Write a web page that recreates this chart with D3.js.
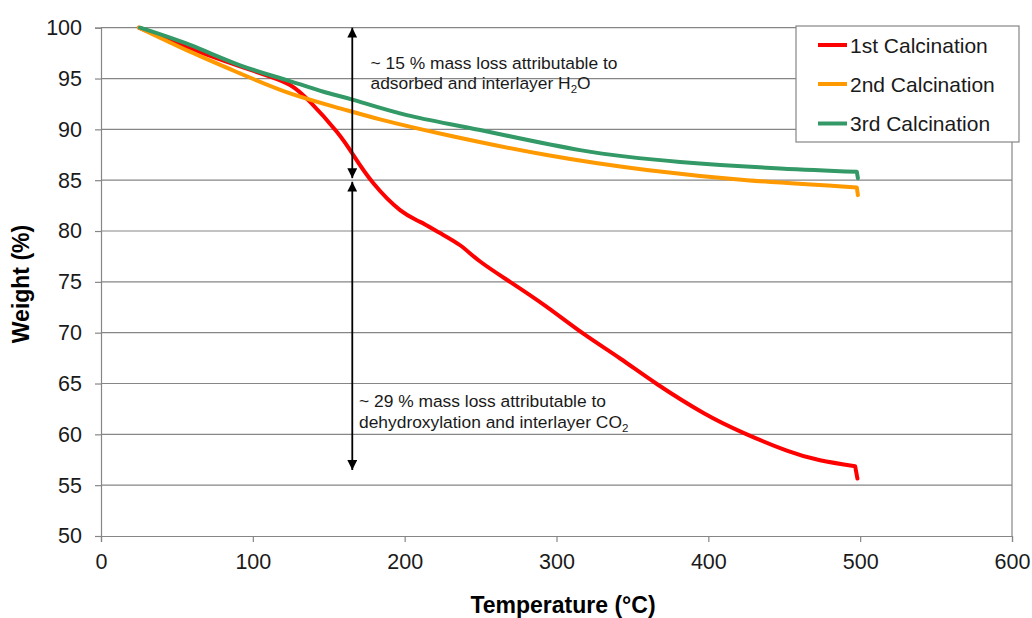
<!DOCTYPE html>
<html><head><meta charset="utf-8">
<script src="https://cdn.jsdelivr.net/npm/d3@7"></script>
<style>body{margin:0;background:#fff;} svg{display:block;font-family:Arial,"Liberation Sans",sans-serif;}</style>
</head><body>
<svg id="c" width="1032" height="618"></svg>
<script>
const seriesNames = ["1st Calcination", "2nd Calcination", "3rd Calcination"];
const temps1 = [25, 58.6, 91.6, 111.3, 124.5, 137.7, 155.3, 166.2, 179.4, 197, 210.2, 223.3, 236.5, 249.7, 269.4, 293.6, 317.7, 341.9, 366.1, 396.8, 423.1, 451.7, 473.6, 496.7, 498.2];
const weights1 = [100, 97.97, 96.2, 95.2, 94.36, 92.7, 89.76, 87.47, 84.7, 82.06, 80.9, 79.8, 78.6, 77.0, 75.0, 72.54, 69.9, 67.46, 64.95, 62.1, 60.15, 58.4, 57.45, 56.86, 55.65];
const temps2 = [25, 58.6, 91.6, 124.5, 157.4, 183.8, 227.7, 293.6, 359.5, 425.4, 497.8, 498.5];
const weights2 = [100, 97.64, 95.5, 93.54, 92.07, 90.98, 89.44, 87.47, 86.0, 85.0, 84.29, 83.53];
const temps3 = [25.7, 58.6, 91.6, 122.3, 146.5, 166.2, 201.4, 249.7, 315.5, 381.4, 447.3, 497.8, 498.5];
const weights3 = [100, 98.3, 96.3, 94.85, 93.7, 92.9, 91.4, 89.93, 87.96, 86.8, 86.16, 85.83, 85.2];
const xTicks = [0, 100, 200, 300, 400, 500, 600];
const yTicks = [50, 55, 60, 65, 70, 75, 80, 85, 90, 95, 100];
const arrowTemp = 165.5;
const arrowUpper = [100, 85.2];
const arrowLower = [84.85, 56.5];
const note1 = ["~ 15 % mass loss attributable to", "adsorbed and interlayer H", "2", "O"];
const note2 = ["~ 29 % mass loss attributable to", "dehydroxylation and interlayer CO", "2"];
const colors = ["#ff0000", "#ff9900", "#339966"];

const svg = d3.select("#c");
const x = d3.scaleLinear().domain([0, 600]).range([101, 1012]);
const y = d3.scaleLinear().domain([50, 100]).range([536, 27.7]);

// gridlines
svg.append("g").selectAll("line").data(yTicks.filter(d => d > 50)).join("line")
  .attr("x1", x(0)).attr("x2", x(600)).attr("y1", d => y(d)).attr("y2", d => y(d))
  .attr("stroke", "#868686").attr("stroke-width", 1.2);
// right border
svg.append("line").attr("x1", x(600)).attr("x2", x(600)).attr("y1", y(100)).attr("y2", y(50))
  .attr("stroke", "#868686").attr("stroke-width", 1.2);

// axes
const xAxis = svg.append("g").attr("transform", `translate(0,${y(50)})`)
  .call(d3.axisBottom(x).tickValues(xTicks).tickSize(6).tickPadding(12));
const yAxis = svg.append("g").attr("transform", `translate(${x(0)},0)`)
  .call(d3.axisLeft(y).tickValues(yTicks).tickSize(6).tickPadding(13));
[xAxis, yAxis].forEach(a => {
  a.select(".domain").attr("stroke", "#868686").attr("stroke-width", 1.2);
  a.selectAll(".tick line").attr("stroke", "#868686").attr("stroke-width", 1.2);
  a.selectAll(".tick text").attr("font-size", 21.5).attr("fill", "#1a1a1a").attr("font-family", "Arial, 'Liberation Sans', sans-serif");
});

// series: smooth curve through the readings, then the final drop as a straight segment
const series = [
  temps1.map((t, i) => [t, weights1[i]]),
  temps2.map((t, i) => [t, weights2[i]]),
  temps3.map((t, i) => [t, weights3[i]])
];
const smooth = d3.line().x(d => x(d[0])).y(d => y(d[1])).curve(d3.curveNatural);
[0, 1, 2].forEach(i => {
  const pts = series[i];
  const last = pts[pts.length - 1];
  const d = smooth(pts.slice(0, -1)) + "L" + x(last[0]) + "," + y(last[1]);
  svg.append("path").attr("d", d).attr("fill", "none")
    .attr("stroke", colors[i]).attr("stroke-width", 4)
    .attr("stroke-linecap", "round").attr("stroke-linejoin", "round");
});

// arrows
const defs = svg.append("defs");
defs.append("marker").attr("id", "ah").attr("viewBox", "0 0 10 10").attr("refX", 10).attr("refY", 5)
  .attr("markerWidth", 5.5).attr("markerHeight", 5.5).attr("orient", "auto-start-reverse").attr("markerUnits", "strokeWidth")
  .append("path").attr("d", "M0,0 L10,5 L0,10 Z").attr("fill", "#000");
[arrowUpper, arrowLower].forEach(a => {
  svg.append("line").attr("x1", x(arrowTemp)).attr("x2", x(arrowTemp))
    .attr("y1", y(a[0])).attr("y2", y(a[1]))
    .attr("stroke", "#000").attr("stroke-width", 1.8)
    .attr("marker-start", "url(#ah)").attr("marker-end", "url(#ah)");
});

// notes
const t1 = svg.append("text").attr("font-size", 17.4).attr("fill", "#1a1a1a");
t1.append("tspan").attr("x", 370.5).attr("y", 69).text(note1[0]);
t1.append("tspan").attr("x", 370.5).attr("y", 89).text(note1[1]);
t1.append("tspan").attr("font-size", 11.5).attr("dy", 4).text(note1[2]);
t1.append("tspan").attr("dy", -4).text(note1[3]);

const t2 = svg.append("text").attr("font-size", 17.4).attr("fill", "#1a1a1a");
t2.append("tspan").attr("x", 359).attr("y", 407).text(note2[0]);
t2.append("tspan").attr("x", 359).attr("y", 428).text(note2[1]);
t2.append("tspan").attr("font-size", 11.5).attr("dy", 4).text(note2[2]);

// axis titles
svg.append("text").attr("x", 563).attr("y", 613).attr("text-anchor", "middle")
  .attr("font-size", 23).attr("font-weight", "bold").attr("fill", "#000").text("Temperature (°C)");
svg.append("text").attr("transform", "translate(29,284) rotate(-90)").attr("text-anchor", "middle")
  .attr("font-size", 23).attr("font-weight", "bold").attr("fill", "#000").text("Weight (%)");

// legend
const lg = svg.append("g");
lg.append("rect").attr("x", 796).attr("y", 26).attr("width", 223).attr("height", 116)
  .attr("fill", "#fff").attr("stroke", "#868686").attr("stroke-width", 1.2);
const ly = [45, 84, 123.5];
seriesNames.forEach((n, i) => {
  lg.append("line").attr("x1", 818).attr("x2", 847).attr("y1", ly[i]).attr("y2", ly[i])
    .attr("stroke", colors[i]).attr("stroke-width", 4);
  lg.append("text").attr("x", 850).attr("y", ly[i] + 7.5).attr("font-size", 21).attr("fill", "#1a1a1a").text(n);
});
</script>
</body></html>
